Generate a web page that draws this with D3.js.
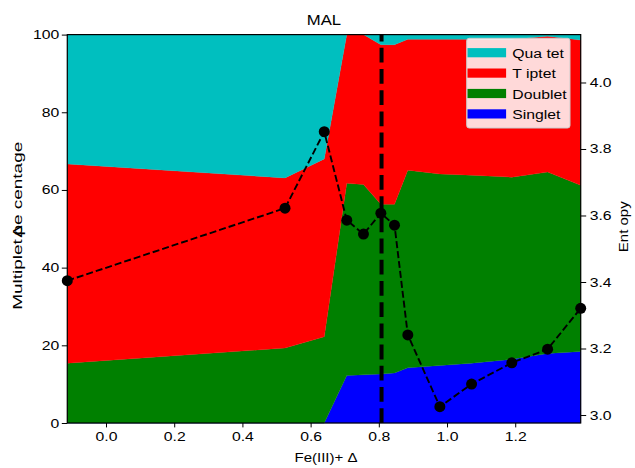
<!DOCTYPE html>
<html>
<head>
<meta charset="utf-8">
<script src="https://cdn.jsdelivr.net/npm/d3@7"></script>
<style>
  body { margin: 0; background: #fff; }
  text { font-family: "Liberation Sans", Arial, sans-serif; fill: #000; }
</style>
</head>
<body>
<svg id="chart"></svg>
<script>
// values
var deltaValues = [-0.1135, 0.525, 0.640, 0.706, 0.755, 0.806, 0.846, 0.885, 0.979, 1.072, 1.190, 1.295, 1.392];
var singletPct = [0, 0, 0, 12.2, 12.4, 12.6, 12.9, 14.2, 14.8, 15.4, 16.4, 17.9, 18.4];
var doubletPct = [15.4, 19.3, 22.2, 49.5, 49.0, 43.7, 43.4, 50.9, 49.3, 48.4, 46.9, 46.7, 42.8];
var tripletPct = [51.3, 43.8, 45.8, 38.3, 38.6, 41.1, 41.1, 33.7, 34.7, 35.0, 35.5, 35.0, 37.4];
var quartetPct = [33.3, 36.9, 32.0, 0, 0, 2.6, 2.6, 1.2, 1.2, 1.2, 1.2, 0.4, 1.4];
var entropyValues = [3.404, 3.622, 3.852, 3.586, 3.544, 3.607, 3.571, 3.241, 3.025, 3.093, 3.157, 3.198, 3.321];
var markerDelta = 0.808;

var keys = ["Singlet", "Doublet", "Triplet", "Quartet"];
var legendLabels = { Quartet: "Qua tet", Triplet: "T iptet", Doublet: "Doublet", Singlet: "Singlet" };
var colors = { Singlet: "#0000ff", Doublet: "#008000", Triplet: "#ff0000", Quartet: "#00bfbf" };

var xTicks = [0.0, 0.2, 0.4, 0.6, 0.8, 1.0, 1.2];
var yTicks = [0, 20, 40, 60, 80, 100];
var eTicks = [3.0, 3.2, 3.4, 3.6, 3.8, 4.0];

var rows = deltaValues.map(function (d, i) {
    return { delta: d, Singlet: singletPct[i], Doublet: doubletPct[i], Triplet: tripletPct[i], Quartet: quartetPct[i], entropy: entropyValues[i] };
});

var WIDTH = 635, HEIGHT = 468;
var margin = { top: 34.6, right: 54.3, bottom: 45, left: 67.3 },
    width = WIDTH - margin.left - margin.right,
    height = HEIGHT - margin.top - margin.bottom;
var FS = 12.5, STRETCH = 1.26;

var svg = d3.select("#chart").attr("width", WIDTH).attr("height", HEIGHT);
var root = svg.append("g").attr("transform", "translate(" + margin.left + "," + margin.top + ")");

function stretch(sel, k) {
    sel.each(function () {
        var w = this.getComputedTextLength();
        d3.select(this).attr("textLength", w * k).attr("lengthAdjust", "spacingAndGlyphs");
    });
}

var x = d3.scaleLinear().domain(d3.extent(deltaValues)).range([0, width]);
var y = d3.scaleLinear().domain([0, 100]).range([height, 0]);
var yE = d3.scaleLinear().domain([2.976, 4.144]).range([height, 0]);

var stack = d3.stack().keys(keys);
var series = stack(rows);

var area = d3.area()
    .x(function (d) { return x(d.data.delta); })
    .y0(function (d) { return y(d[0]); })
    .y1(function (d) { return y(d[1]); });

root.selectAll("path.layer")
    .data(series)
    .enter().append("path")
    .attr("class", "layer")
    .attr("d", area)
    .attr("fill", function (d) { return colors[d.key]; })
    .attr("stroke", function (d) { return colors[d.key]; })
    .attr("stroke-width", 0.3);

// vertical marker
root.append("line")
    .attr("x1", x(markerDelta)).attr("x2", x(markerDelta))
    .attr("y1", height).attr("y2", 0)
    .attr("stroke", "#000")
    .attr("stroke-width", 4)
    .attr("stroke-dasharray", "14.8,6.4");

// entropy line
var line = d3.line()
    .x(function (d) { return x(d.delta); })
    .y(function (d) { return yE(d.entropy); });

root.append("path")
    .datum(rows)
    .attr("d", line)
    .attr("fill", "none")
    .attr("stroke", "#000")
    .attr("stroke-width", 1.9)
    .attr("stroke-dasharray", "7,3");

root.selectAll("circle.pt")
    .data(rows)
    .enter().append("circle")
    .attr("class", "pt")
    .attr("cx", function (d) { return x(d.delta); })
    .attr("cy", function (d) { return yE(d.entropy); })
    .attr("r", 5.5)
    .attr("fill", "#000");

// frame
root.append("rect")
    .attr("width", width).attr("height", height)
    .attr("fill", "none")
    .attr("stroke", "#000")
    .attr("stroke-width", 1.2);

// axes
var xAxis = root.append("g")
    .attr("transform", "translate(0," + height + ")")
    .call(d3.axisBottom(x).tickValues(xTicks).tickFormat(d3.format(".1f")).tickSize(4.4).tickSizeOuter(0).tickPadding(5));
var yAxis = root.append("g")
    .call(d3.axisLeft(y).tickValues(yTicks).tickSize(5.5).tickSizeOuter(0).tickPadding(2.5));
var eAxis = root.append("g")
    .attr("transform", "translate(" + width + ",0)")
    .call(d3.axisRight(yE).tickValues(eTicks).tickFormat(d3.format(".1f")).tickSize(5.5).tickSizeOuter(0).tickPadding(3.5));

[xAxis, yAxis, eAxis].forEach(function (g) {
    g.select(".domain").remove();
    g.selectAll("line").attr("stroke", "#000").attr("stroke-width", 1);
    g.selectAll("text").attr("font-size", FS).attr("font-family", null).attr("fill", "#000");
    stretch(g.selectAll("text"), STRETCH);
});

// title
var title = root.append("text")
    .attr("x", width / 2).attr("y", -9.6)
    .attr("text-anchor", "middle")
    .attr("font-size", 14.5)
    .text("MAL");
stretch(title, 1.15);

// x label
var xl = root.append("text")
    .attr("x", width / 2 + 2).attr("y", height + 39)
    .attr("text-anchor", "middle")
    .attr("font-size", FS)
    .text("Fe(III)+ \u0394");
stretch(xl, 1.2);

// left label
var yl = svg.append("text")
    .attr("transform", "translate(22," + (margin.top + height / 2 - 3) + ") rotate(-90)")
    .attr("text-anchor", "middle")
    .attr("font-size", FS)
    .attr("textLength", 168)
    .attr("lengthAdjust", "spacingAndGlyphs");
yl.append("tspan").text("Multiplet");
yl.append("tspan").attr("dx", 1).text("\u0394");
yl.append("tspan").attr("dx", -7).text("pe centage");

// right label
var el = svg.append("text")
    .attr("transform", "translate(628," + (margin.top + height / 2 - 2) + ") rotate(-90)")
    .attr("text-anchor", "middle")
    .attr("font-size", FS)
    .text("Ent opy");
stretch(el, 1.2);

// legend
var legend = svg.append("g").attr("transform", "translate(466.7,38.3)");
legend.append("rect")
    .attr("width", 103.3).attr("height", 89.7)
    .attr("rx", 2.5)
    .attr("fill", "#fff").attr("fill-opacity", 0.85)
    .attr("stroke", "#cccccc").attr("stroke-width", 1);

var legendOrder = ["Quartet", "Triplet", "Doublet", "Singlet"];
var item = legend.selectAll("g.item")
    .data(legendOrder)
    .enter().append("g")
    .attr("class", "item")
    .attr("transform", function (d, i) { return "translate(0," + (14.4 + i * 20.4) + ")"; });
item.append("rect")
    .attr("x", 0.8).attr("y", -4.6)
    .attr("width", 38.6).attr("height", 9.2)
    .attr("fill", function (d) { return colors[d]; });
var lt = item.append("text")
    .attr("x", 45.6).attr("y", 5)
    .attr("font-size", FS)
    .text(function (d) { return legendLabels[d]; });
stretch(lt, STRETCH);
</script>
</body>
</html>
